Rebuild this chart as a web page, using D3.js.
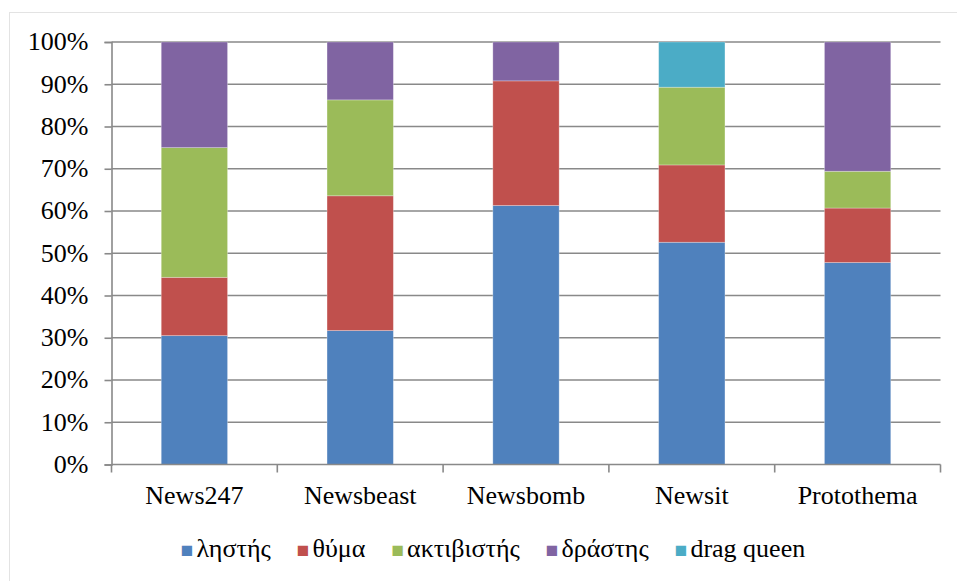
<!DOCTYPE html>
<html>
<head>
<meta charset="utf-8">
<script src="https://cdn.jsdelivr.net/npm/d3@7/dist/d3.min.js"></script>
</head>
<body style="margin:0;background:#fff">
<svg id="chart" width="957" height="581"></svg>
<script>
const categories = ["News247", "Newsbeast", "Newsbomb", "Newsit", "Protothema"];
const seriesNames = ["ληστής", "θύμα", "ακτιβιστής", "δράστης", "drag queen"];
const seriesColors = ["#4F81BD", "#C0504D", "#9BBB59", "#8064A2", "#4BACC6"];
const lististis  = [30.5, 31.7, 61.3, 52.6, 47.8];
const thyma      = [13.8, 31.9, 29.5, 18.3, 12.9];
const aktivistis = [30.7, 22.7, 0,    18.4, 8.7];
const drastis    = [25.0, 13.7, 9.2,  0,    30.6];
const dragQueen  = [0,    0,    0,    10.7, 0];
const yTicks = [0, 10, 20, 30, 40, 50, 60, 70, 80, 90, 100];

const FONT = "'Liberation Serif', 'Times New Roman', Tinos, serif";
const FS = 26;

const seriesValues = [lististis, thyma, aktivistis, drastis, dragQueen];
const table = categories.map((c, i) => {
  const row = { category: c };
  seriesNames.forEach((s, j) => row[s] = seriesValues[j][i]);
  return row;
});
// normalize to 100%
table.forEach(r => {
  const tot = d3.sum(seriesNames, s => r[s]);
  seriesNames.forEach(s => r[s] = r[s] / tot * 100);
});

const svg = d3.select("#chart");
svg.style("display", "block");

// outer frame
svg.append("rect").attr("x", 9.5).attr("y", 12.5).attr("width", 960).attr("height", 580)
  .attr("fill", "#fff").attr("stroke", "#e3e3e3").attr("stroke-width", 1);

const pLeft = 111.5, pRight = 940.5, pTop = 42, pBottom = 464.5;

const x = d3.scaleBand().domain(categories).range([pLeft, pRight]).paddingInner(0.6).paddingOuter(0.3);
const xEdge = d3.scaleBand().domain(categories).range([pLeft, pRight]).padding(0);
const y = d3.scaleLinear().domain([0, 100]).range([pBottom, pTop]);

const gridColor = "#898989";

// gridlines
svg.append("g").selectAll("line").data(yTicks.filter(t => t > 0)).join("line")
  .attr("x1", pLeft).attr("x2", pRight)
  .attr("y1", d => y(d)).attr("y2", d => y(d))
  .attr("stroke", gridColor).attr("stroke-width", 1.6);

// stacked bars
const stack = d3.stack().keys(seriesNames);
const stacked = stack(table);
const color = d3.scaleOrdinal().domain(seriesNames).range(seriesColors);

svg.append("g").selectAll("g").data(stacked).join("g")
  .attr("fill", d => color(d.key))
  .selectAll("rect").data(d => d.filter(p => p[1] - p[0] > 0)).join("rect")
  .attr("x", d => x(d.data.category))
  .attr("width", x.bandwidth())
  .attr("y", d => y(d[1]))
  .attr("height", d => y(d[0]) - y(d[1]))
  .attr("stroke", "rgba(255,255,255,0.35)")
  .attr("stroke-width", 0.8);

// y axis
const yAxis = d3.axisLeft(y).tickValues(yTicks).tickSize(7).tickFormat(d => d + "%").tickPadding(16);
const gy = svg.append("g").attr("transform", `translate(${pLeft},0)`).call(yAxis);
gy.attr("font-family", null).attr("font-size", null);
gy.select(".domain").attr("stroke", gridColor).attr("stroke-width", 1.6);
gy.selectAll(".tick line").attr("stroke", gridColor).attr("stroke-width", 1.6);
gy.selectAll(".tick text").attr("fill", "#000").attr("dy", "0.3em").attr("font-size", FS);

// x axis baseline
const xAxis = d3.axisBottom(x).tickSize(0).tickPadding(32);
const gx = svg.append("g").attr("transform", `translate(0,${pBottom})`).call(xAxis);
gx.attr("font-family", null).attr("font-size", null);
gx.select(".domain").attr("stroke", gridColor).attr("stroke-width", 1.6).attr("d", `M${pLeft},0H${pRight}`);
gx.selectAll(".tick text").attr("fill", "#000").attr("dy", "0.3em").attr("font-size", FS);

// category boundary ticks
const edges = categories.map(c => xEdge(c)).concat([pRight]);
svg.append("g").selectAll("line").data(edges).join("line")
  .attr("x1", d => d).attr("x2", d => d)
  .attr("y1", pBottom).attr("y2", pBottom + 8)
  .attr("stroke", gridColor).attr("stroke-width", 1.6);

// legend: one centred text line, colour swatches as square glyphs
const legend = svg.append("text")
  .attr("x", 493).attr("y", 557).attr("text-anchor", "middle")
  .attr("font-size", FS).attr("fill", "#000");
seriesNames.forEach((s, i) => {
  legend.append("tspan").attr("fill", color(s)).attr("font-size", 21)
    .attr("dx", i === 0 ? 0 : 26).text("■");
  legend.append("tspan").attr("dx", 3).text(s);
});

// force the serif face on every text element
svg.selectAll("text").style("font-family", FONT, "important");
</script>
</body>
</html>
